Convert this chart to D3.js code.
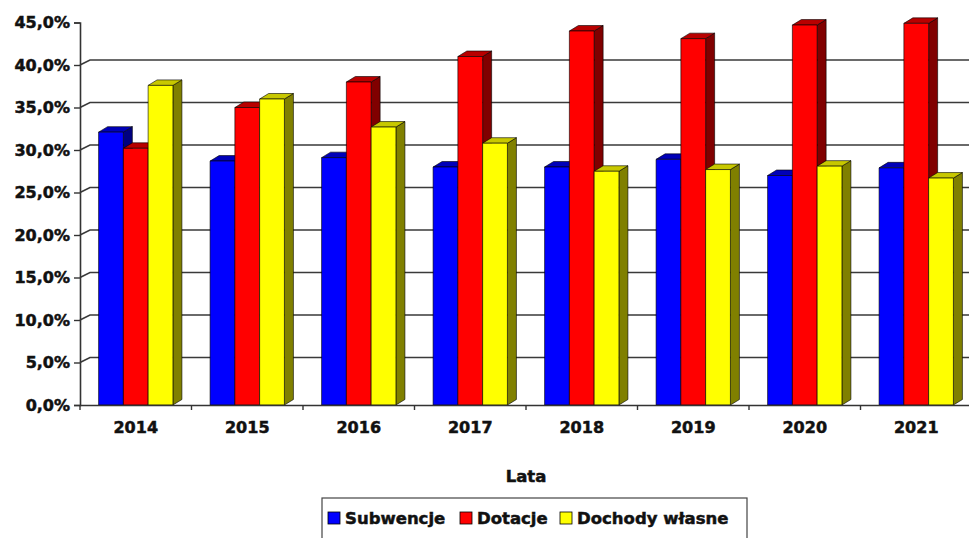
<!DOCTYPE html>
<html>
<head>
<meta charset="utf-8">
<script src="https://cdn.jsdelivr.net/npm/d3@7"></script>
<style>
  html, body { margin: 0; padding: 0; background: #fff; }
  svg { display: block; }
  text { font-family: "DejaVu Sans", Tahoma, sans-serif; font-weight: bold; fill: #111; stroke: #111; stroke-width: 0.5px; }
</style>
</head>
<body>
<svg id="chart" width="969" height="538"></svg>
<script>
// Udział źródeł dochodów w latach 2014–2021 (%)
const years = ["2014", "2015", "2016", "2017", "2018", "2019", "2020", "2021"];
const subwencje = [32.1, 28.7, 29.1, 28.0, 28.0, 28.9, 27.0, 27.9];
const dotacje = [30.2, 35.0, 38.0, 41.0, 44.0, 43.1, 44.7, 44.9];
const dochodyWlasne = [37.6, 36.0, 32.7, 30.8, 27.5, 27.7, 28.1, 26.7];
const seriesNames = ["Subwencje", "Dotacje", "Dochody własne"];
const yTicks = [0, 5, 10, 15, 20, 25, 30, 35, 40, 45];
const xTitle = "Lata";

const seriesValues = [subwencje, dotacje, dochodyWlasne];
const faceColors = [
  { front: "#0000ff", top: "#0000b8", side: "#000080" },
  { front: "#ff0000", top: "#b80000", side: "#800000" },
  { front: "#ffff00", top: "#c8c800", side: "#808000" }
];

const svg = d3.select("#chart");
const W = 969, H = 538;
const plotLeft = 80, plotRight = 972, plotBottom = 405, plotTop = 22.5;
// 3D depth of the back wall and of the columns
const wallDx = 10, wallDy = -5;
const barDx = 9, barDy = -5.5;

const x = d3.scaleBand().domain(years).range([plotLeft, plotRight]).paddingInner(0).paddingOuter(0);
const x1 = d3.scaleBand().domain(seriesNames).range([0, x.bandwidth()]).paddingInner(0).paddingOuter(0.75);
const y = d3.scaleLinear().domain([0, 45]).range([plotBottom, plotTop]);

svg.append("rect").attr("width", W).attr("height", H).attr("fill", "#fff");

// Back wall gridlines (with the short diagonal on the side wall)
const grid = svg.append("g").attr("fill", "none").attr("stroke", "#3a3a3a").attr("stroke-width", 1.6);
yTicks.filter(v => v > 0 && v < 45).forEach(v => {
  const yy = y(v);
  grid.append("path").attr("d", `M${plotLeft},${yy}L${plotLeft + wallDx},${yy + wallDy}L${W + 5},${yy + wallDy}`);
});

// Columns, painted left to right so later faces overlap earlier sides
const bars = svg.append("g").attr("stroke", "#000").attr("stroke-width", 0.6).attr("stroke-linejoin", "round");
years.forEach((yr, i) => {
  seriesNames.forEach((s, k) => {
    const v = seriesValues[k][i];
    const x0 = x(yr) + x1(s), w = x1.bandwidth();
    const yt = y(v), yb = y(0);
    const c = faceColors[k];
    const g = bars.append("g");
    // right side face
    g.append("path").attr("fill", c.side)
      .attr("d", `M${x0 + w},${yb}L${x0 + w + barDx},${yb + barDy}L${x0 + w + barDx},${yt + barDy}L${x0 + w},${yt}Z`);
    // top face
    g.append("path").attr("fill", c.top)
      .attr("d", `M${x0},${yt}L${x0 + barDx},${yt + barDy}L${x0 + w + barDx},${yt + barDy}L${x0 + w},${yt}Z`);
    // front face
    g.append("rect").attr("fill", c.front).attr("x", x0).attr("y", yt).attr("width", w).attr("height", yb - yt);
  });
});

// Value axis
const fmt = v => d3.format(".1f")(v).replace(".", ",") + "%";
const yAxis = svg.append("g").attr("transform", `translate(${plotLeft},0)`)
  .call(d3.axisLeft(y).tickValues(yTicks).tickFormat(fmt).tickSize(6).tickPadding(4));
yAxis.select(".domain").attr("stroke", "#333").attr("stroke-width", 1.6);
yAxis.selectAll(".tick line").attr("stroke", "#333").attr("stroke-width", 1.4);
yAxis.selectAll(".tick text").attr("font-size", 16).attr("font-family", "DejaVu Sans, sans-serif")
  .attr("font-weight", "bold").attr("fill", "#111");

// Category axis: labels at band centres, ticks at band boundaries
const xAxis = svg.append("g").attr("transform", `translate(0,${plotBottom})`)
  .call(d3.axisBottom(x).tickSize(0).tickPadding(17));
xAxis.select(".domain").attr("d", `M${plotLeft},0.5H${W + 5}`).attr("stroke", "#333").attr("stroke-width", 1.6);
xAxis.selectAll(".tick text").attr("font-size", 16).attr("font-family", "DejaVu Sans, sans-serif")
  .attr("font-weight", "bold").attr("fill", "#111");
const bounds = years.map(d => x(d)).concat([x(years[years.length - 1]) + x.bandwidth()]);
xAxis.selectAll("line.bound").data(bounds).join("line").attr("class", "bound")
  .attr("x1", d => d).attr("x2", d => d).attr("y1", 0).attr("y2", 5)
  .attr("stroke", "#333").attr("stroke-width", 1.4);

// Axis title
svg.append("text").attr("x", (plotLeft + plotRight) / 2).attr("y", 482)
  .attr("text-anchor", "middle").attr("font-size", 16.5).text(xTitle);

// Legend
const legend = svg.append("g");
legend.append("rect").attr("x", 322).attr("y", 498).attr("width", 425).attr("height", 50)
  .attr("fill", "#fff").attr("stroke", "#444").attr("stroke-width", 1.2);
const legendX = [328, 460, 560];
seriesNames.forEach((s, k) => {
  const gx = legendX[k];
  legend.append("rect").attr("x", gx).attr("y", 512).attr("width", 12).attr("height", 12)
    .attr("fill", faceColors[k].front).attr("stroke", "#000").attr("stroke-width", 0.8);
  legend.append("text").attr("x", gx + 17).attr("y", 524).attr("font-size", 16.5).text(s);
});
</script>
</body>
</html>
